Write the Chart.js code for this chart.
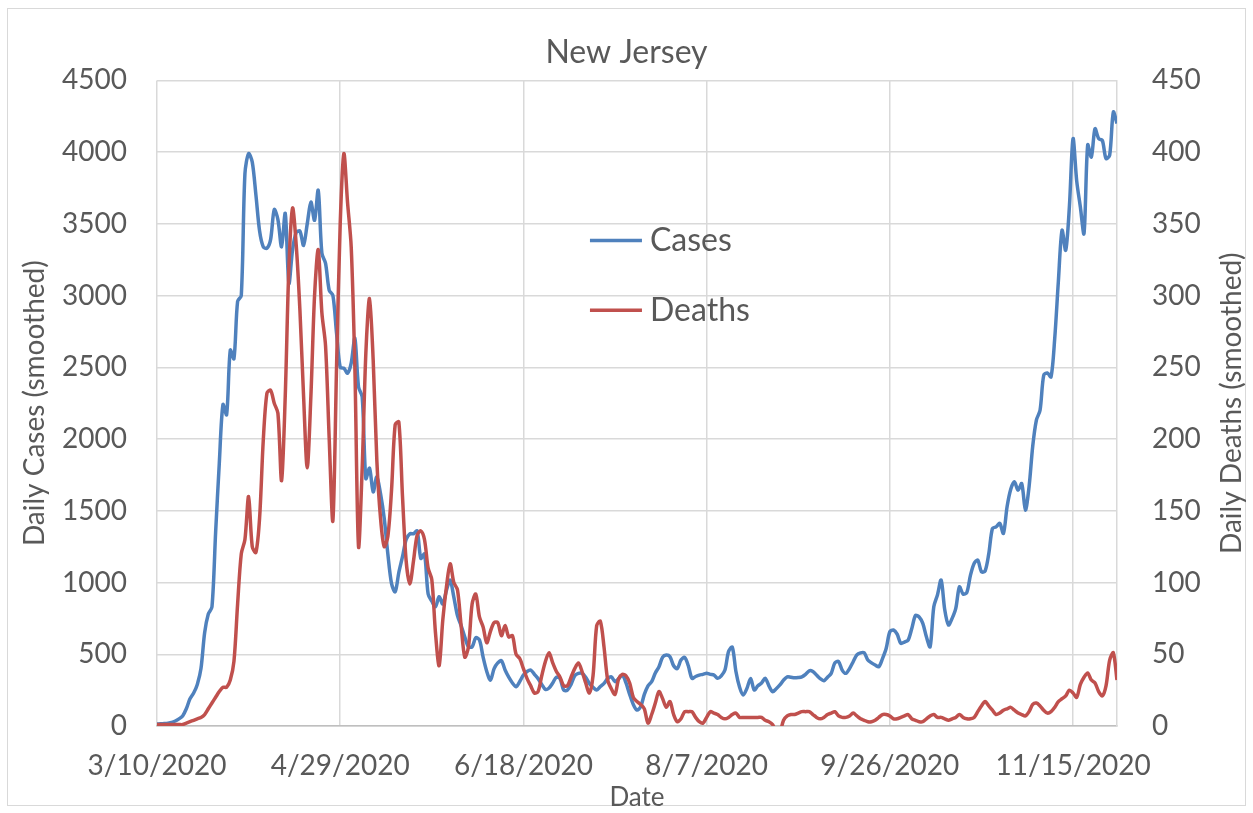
<!DOCTYPE html>
<html>
<head>
<meta charset="utf-8">
<title>New Jersey</title>
<script src="https://cdn.jsdelivr.net/npm/chart.js@4.4.0/dist/chart.umd.min.js"></script>
<style>
  html, body { margin: 0; padding: 0; background: #fff; }
  #wrap { position: relative; width: 1253px; height: 813px; }
</style>
</head>
<body>
<div id="wrap"><canvas id="njChart"></canvas></div>
<script>
// day 0 = 3/10/2020, one value per day
const firstDay = Date.UTC(2020, 2, 10);
const lastDay = 262;
const dateTickStep = 50;

const casesSmoothed = [
  14, 15, 17, 20, 25, 35, 50, 70, 120, 190,
  230, 290, 400, 650, 780, 830, 1350, 1830, 2240, 2170,
  2620, 2560, 2960, 3000, 3850, 3990, 3930, 3700, 3450, 3340,
  3330, 3390, 3600, 3530, 3340, 3573, 3085, 3320, 3440, 3450,
  3350, 3500, 3652, 3525, 3734, 3295, 3225, 3037, 3002, 2738,
  2500, 2494, 2459, 2529, 2703, 2364, 2294, 1725, 1797, 1632,
  1737, 1620, 1450, 1200, 994, 935, 1070, 1180, 1300, 1340,
  1340, 1360, 1168, 1200, 920, 870, 831, 901, 850, 947,
  1017, 900, 770, 700, 620, 552, 552, 615, 600, 480,
  380, 320, 400, 440, 455, 390, 340, 300, 274, 310,
  355, 380, 390, 360, 330, 290, 255, 265, 300, 340,
  330, 250, 250, 290, 350, 367, 367, 340, 297, 270,
  251, 275, 297, 330, 343, 309, 330, 355, 300, 220,
  150, 111, 135, 220, 280, 309, 370, 413, 480, 495,
  483, 420, 400, 460, 478, 420, 332, 345, 355, 360,
  367, 360, 355, 332, 350, 390, 520, 550, 380, 270,
  216, 262, 332, 251, 280, 300, 332, 280, 239, 260,
  286, 320, 343, 340, 336, 338, 343, 360, 385, 380,
  355, 330, 316, 340, 367, 440, 450, 390, 367, 400,
  448, 495, 510, 510, 460, 440, 425, 413, 470, 540,
  657, 669, 640, 576, 585, 599, 680, 770, 760, 715,
  620, 552, 831, 913, 1017, 808, 704, 750, 820, 970,
  920, 930, 1050, 1133, 1156, 1075, 1080, 1200, 1377, 1388,
  1412, 1342, 1528, 1650, 1702, 1644, 1690, 1505, 1667, 1950,
  2132, 2201, 2445, 2461, 2433, 2700, 3100, 3455, 3316, 3617,
  4094, 3800, 3617, 3432, 4050, 3966, 4163, 4094, 4082, 3955,
  3978, 4279, 4200
];

const deathsSmoothed = [
  1, 1, 1, 1, 1, 1, 1, 1, 2, 3,
  4, 5, 6, 8, 12, 16, 20, 24, 27, 27,
  32, 45, 85, 120, 130, 160, 125, 121, 145, 199,
  232, 234, 225, 218, 171, 230, 320, 361, 335, 290,
  230, 180, 230, 300, 332, 288, 265, 200, 143, 250,
  350, 399, 365, 334, 250, 125, 180, 260, 298, 255,
  185, 145, 125, 132, 164, 210, 212, 160, 115, 99,
  115, 133, 136, 130, 110, 102, 65, 42, 74, 97,
  113, 100, 95, 70, 48, 55, 85, 92, 76, 69,
  58, 66, 72, 72, 63, 70, 62, 63, 50, 47,
  40, 33, 28, 23, 24, 35, 45, 51, 44, 38,
  34, 28, 28, 34, 40, 44, 38, 30, 23, 35,
  70, 73, 55, 32, 26, 22, 33, 36, 35, 30,
  20, 17, 15, 12, 2, 8, 16, 24, 19, 13,
  17, 8, 3, 5, 10, 10, 10, 6, 3, 2,
  6, 10, 9, 8, 6, 5, 6, 8, 9, 6,
  6, 6, 6, 6, 6, 6, 4, 3, 1, -4,
  -4, 4, 7, 8, 8, 9, 10, 10, 10, 8,
  6, 5, 6, 8, 9, 10, 7, 6, 6, 7,
  9, 7, 5, 4, 3, 3, 4, 6, 8, 8,
  7, 5, 5, 6, 7, 8, 5, 4, 3, 3,
  5, 7, 8, 6, 6, 5, 4, 5, 6, 8,
  6, 5, 5, 6, 10, 14, 17, 14, 11, 8,
  9, 11, 12, 13, 11, 9, 8, 7, 10, 15,
  16, 14, 11, 9, 10, 13, 17, 19, 21, 25,
  23, 20, 29, 34, 37, 32, 30, 24, 21, 28,
  46, 51, 32
];

const seriesNames = ['Cases', 'Deaths'];
const seriesColors = ['#4f81bd', '#c0504d'];

const textColor = '#595959';
const gridColor = '#d9d9d9';
const fontFamily = 'Lato, "Open Sans", sans-serif';

function dayLabel(d) {
  const t = new Date(firstDay + d * 86400000);
  return (t.getUTCMonth() + 1) + '/' + t.getUTCDate() + '/' + t.getUTCFullYear();
}

// legend inside the plot + right axis title (reads bottom to top) + outer frame
const extras = {
  id: 'extras',
  beforeDraw(chart) {
    const ctx = chart.ctx;
    ctx.save();
    ctx.strokeStyle = gridColor;
    ctx.lineWidth = 1;
    ctx.strokeRect(7.5, 8.5, 1238, 797);
    ctx.restore();
  },
  afterDraw(chart) {
    const { ctx, chartArea } = chart;
    const w = chartArea.right - chartArea.left;
    const h = chartArea.bottom - chartArea.top;
    ctx.save();
    ctx.font = '32px ' + fontFamily;
    ctx.textBaseline = 'middle';
    ctx.fillStyle = textColor;
    const lx = chartArea.left + w * 0.451;
    const rows = [chartArea.top + h * 0.248, chartArea.top + h * 0.356];
    seriesNames.forEach((name, i) => {
      ctx.strokeStyle = seriesColors[i];
      ctx.lineWidth = 3.5;
      ctx.beginPath();
      ctx.moveTo(lx, rows[i]);
      ctx.lineTo(lx + 52, rows[i]);
      ctx.stroke();
      ctx.textAlign = 'left';
      ctx.fillText(name, lx + 60, rows[i]);
    });

    ctx.font = '28px ' + fontFamily;
    ctx.translate(1232, (chartArea.top + chartArea.bottom) / 2);
    ctx.rotate(-Math.PI / 2);
    ctx.textAlign = 'center';
    ctx.fillText('Daily Deaths (smoothed)', 0, 0);
    ctx.restore();
  }
};

const ctx = document.getElementById('njChart').getContext('2d');

new Chart(ctx, {
  type: 'line',
  data: {
    datasets: [
      {
        label: seriesNames[0],
        data: casesSmoothed.map((v, i) => ({ x: i, y: v })),
        yAxisID: 'y',
        borderColor: seriesColors[0],
        borderWidth: 3.5,
        pointRadius: 0,
        tension: 0.3,
        fill: false,
        order: 1
      },
      {
        label: seriesNames[1],
        data: deathsSmoothed.map((v, i) => ({ x: i, y: v })),
        yAxisID: 'y2',
        borderColor: seriesColors[1],
        borderWidth: 3.5,
        pointRadius: 0,
        tension: 0.3,
        fill: false,
        order: 0
      }
    ]
  },
  options: {
    responsive: true,
    maintainAspectRatio: false,
    animation: false,
    layout: { padding: 0 },
    plugins: {
      legend: { display: false },
      tooltip: { enabled: false },
      title: {
        display: true,
        text: 'New Jersey',
        color: textColor,
        font: { family: fontFamily, size: 32, weight: 'normal', lineHeight: 1.2 },
        padding: { top: 33, bottom: 9 }
      }
    },
    scales: {
      x: {
        type: 'linear',
        min: 0,
        max: lastDay,
        afterFit: s => { s.height = 87; },
        ticks: {
          stepSize: dateTickStep,
          includeBounds: false,
          autoSkip: false,
          maxRotation: 0,
          padding: 23,
          color: textColor,
          font: { family: fontFamily, size: 28 },
          callback: v => dayLabel(v)
        },
        grid: { color: gridColor, lineWidth: 1.5, drawTicks: false },
        border: { display: true, color: '#bfbfbf', width: 1.5 },
        title: {
          display: true,
          text: 'Date',
          color: textColor,
          font: { family: fontFamily, size: 26, lineHeight: 1.2 },
          padding: 0
        }
      },
      y: {
        position: 'left',
        min: 0,
        max: 4500,
        afterFit: s => { s.width = 157; },
        ticks: {
          stepSize: 500,
          autoSkip: false,
          padding: 30,
          color: textColor,
          font: { family: fontFamily, size: 28 },
          callback: v => String(v)
        },
        grid: { color: gridColor, lineWidth: 1.5, drawTicks: false },
        border: { display: false },
        title: {
          display: true,
          text: 'Daily Cases (smoothed)',
          color: textColor,
          font: { family: fontFamily, size: 28, lineHeight: 1.2 },
          padding: { top: 18, bottom: 0 }
        }
      },
      y2: {
        position: 'right',
        min: 0,
        max: 450,
        afterFit: s => { s.width = 136; },
        ticks: {
          stepSize: 50,
          autoSkip: false,
          padding: 35,
          color: textColor,
          font: { family: fontFamily, size: 28 },
          callback: v => String(v)
        },
        grid: { display: false, drawTicks: false },
        border: { display: true, color: gridColor, width: 1.5 }
      }
    }
  },
  plugins: [extras]
});
</script>
</body>
</html>
